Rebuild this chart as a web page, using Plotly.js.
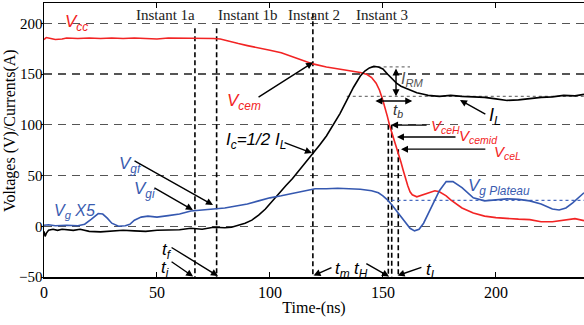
<!DOCTYPE html>
<html><head><meta charset="utf-8">
<script src="https://cdn.plot.ly/plotly-3.0.1.min.js"></script>
<style>html,body{margin:0;padding:0;background:#fff}#chart{width:584px;height:325px}</style>
</head><body><div id="chart"></div>
<script>
// Vce (red)
const vceT = [0,1,3,5,8,10,15,20,25,30,35,40,45,50,55,60,65,70,75,78,82,86,90,95,100,105,110,115,119,125,130,135,140,143,145,147,148.5,150,151,152,153,154,155,156,157,158,159,160,161,162,163,165,168,170,173,175,178,180,185,190,195,200,205,210,215,220,225,230,235,239];
const vceV = [184,186,185,184,184.5,185.5,185,185.5,185,185.5,185,185.5,185,184.5,185.5,185.5,185.5,185,185,184.5,182,180,178,176,173.5,171,167,163,160,157,155,153.5,151.5,149.5,146.5,141,134,124,117,108,99,92,86,79,71,63,55,47,40,34,31,29,31,33,35,34,30,26,18,13,10,8.5,7.5,7,6.5,4.5,4.5,6,7.5,5.5];
// Vg x5 (blue)
const vgT = [0,2,5,10,15,18,21,24,26,28,30,33,36,38,40,43,46,50,55,60,65,70,75,80,85,90,95,100,105,110,115,120,125,130,135,140,145,148,150,152,154,156,158,160,162,164,166,168,170,172,175,178,181,185,190,195,200,205,210,215,220,225,228,231,234,237,239];
const vgV = [1,1.5,0.5,1,0.5,2,7,12.5,12,8,3,0,0.5,2,6,9,10,9,10.5,12,15,16,16.5,18,20,22,25,28,30,32.5,35,37,37,37.5,37,36.5,35,33,30,26,21,15,9,3,-2,-4.5,-3,3,12,22,35,44,44,38,28,25,26,27,26.5,25,22,17,16,18,23,29,33];
// Ic / IL (black)
const icT = [0,0.5,1,2,4,6,8,10,13,16,20,25,30,35,40,45,50,55,60,65,70,75,80,83,86,89,92,95,98,101,104,107,110,113,116,119,122,125,128,131,134,137,140,142,144,146,148,150,152,154,156,158,160,162,165,168,170,175,180,185,190,195,200,205,210,215,220,225,230,235,239];
const icV = [-5,-10,-7,-4,-3,-4,-3,-3.5,-4,-3,-5,-5.5,-4.5,-4,-4.5,-5,-4,-4,-3.5,-2,-3,-1,-1.5,-1,1,3,6,11,17,25,32,40,47,55,63,71,80,89,100,111,124,137,148,153,156,157.5,157,155,150,145,141,138,136,134,131.5,130,129,128,129,128,127.5,127,125.5,124,124.5,126,127,127.5,129,128.5,130];
// Instants (vertical dashed markers)
const instX = [66.8,76.4,119,152.4,153.9,156.8];
const instTop = [195,195,210,100,100,76];
const instLabels = ['Instant 1a','Instant 1b','Instant 2','Instant 3'];
const instLabelX = [53.6,90.3,119.5,149.6];
// reference levels
const irmLevel = [157, 128];
const ilLevelX = [134, 239];
const irmX = [145, 162];
const tbX = [146, 163];
const tbY = 123.4;
const plateauX = [153.8, 239];
const plateauY = 25.6;

const traces = [];
for (let i=0;i<instX.length;i++){
  traces.push({x:[instX[i],instX[i]], y:[instTop[i],-50], mode:'lines', line:{color:'#000',width:1.6,dash:'5px,3px'}, hoverinfo:'skip'});
}
traces.push({x:irmX, y:[irmLevel[0],irmLevel[0]], mode:'lines', line:{color:'#777',width:1.3,dash:'dot'}});
traces.push({x:ilLevelX, y:[irmLevel[1],irmLevel[1]], mode:'lines', line:{color:'#777',width:1.3,dash:'dot'}});
traces.push({x:plateauX, y:[plateauY,plateauY], mode:'lines', line:{color:'#4a6cc0',width:1.3,dash:'dot'}});
traces.push({x:vceT, y:vceV, mode:'lines', line:{color:'#f22424',width:1.6}});
traces.push({x:icT, y:icV, mode:'lines', line:{color:'#000',width:1.6}});
traces.push({x:vgT, y:vgV, mode:'lines', line:{color:'#3558b0',width:1.6}});

const red='#f22424', blue='#3a5cb0';
function txt(x,y,t,c,s){return {x:x,y:y,xref:'x',yref:'y',text:t,showarrow:false,xanchor:'left',yanchor:'middle',font:{family:'Liberation Sans',size:s,color:c}};}
function arr(ax,ay,x,y,side){return {x:x,y:y,ax:ax,ay:ay,xref:'x',yref:'y',axref:'x',ayref:'y',text:'',showarrow:true,arrowhead:2,arrowsize:1,arrowwidth:1.4,arrowcolor:'#000',arrowside:side||'end',standoff:0,startstandoff:0};}

const ann = [
  txt(8.4,200.3,'<i>V<sub>cc</sub></i>',red,17),
  txt(80.1,122.5,'<i>V<sub>cem</sub></i>',red,17),
  txt(79.7,84.1,'<i>I<sub>c</sub>=1/2 I<sub>L</sub></i>','#000',17),
  txt(157.1,144.2,'<i>I<sub>RM</sub></i>','#555',16),
  txt(153.6,113.6,'<i>t<sub>b</sub></i>','#333',15),
  txt(170.4,98.3,'<i>V<sub>ceH</sub></i>',red,15),
  txt(182.8,88,'<i>V<sub>cemid</sub></i>',red,15),
  txt(198.3,72.5,'<i>V<sub>ceL</sub></i>',red,15),
  txt(196.1,107.7,'<i>I<sub>L</sub></i>','#000',18),
  txt(32.3,60.4,'<i>V<sub>gf</sub></i>',blue,17),
  txt(38.9,35.8,'<i>V<sub>gi</sub></i>',blue,17),
  txt(3.5,15,'<i>V<sub>g</sub> X5</i>',blue,16),
  txt(51.3,-24.6,'<i>t<sub>f</sub></i>','#000',17),
  txt(50.9,-41.8,'<i>t<sub>i</sub></i>','#000',17),
  txt(127.9,-43.1,'<i>t<sub>m</sub></i>','#000',17),
  txt(136.3,-43.1,'<i>t<sub>H</sub></i>','#000',17),
  txt(168.2,-44,'<i>t<sub>L</sub></i>','#000',17),
  txt(186.8,38.7,'<i>V<sub>g Plateau</sub></i>',blue,17),
  arr(94.3,126.4,119.1,161.5),
  arr(105.8,83,118.6,72.2),
  arr(155.8,irmLevel[0],155.8,irmLevel[1],'end+start'),
  arr(tbX[0],tbY,tbX[1],tbY,'end+start'),
  arr(170,99.7,153.6,99.7),
  arr(182.8,88,156.2,88),
  arr(196,76,158,76),
  arr(196,109.6,184.1,124.4),
  arr(39.4,65.3,74.8,21),
  arr(48.2,38.7,65.9,16),
  arr(55.8,-20,77,-49),
  arr(55.8,-34,66,-49.5),
  arr(127.9,-40,119.3,-48.6),
  arr(142,-36,152.7,-49.5),
  arr(167.7,-40,156.5,-48.6)
];
for (let i=0;i<instLabels.length;i++){
  ann.push({x:instLabelX[i],y:208.2,xref:'x',yref:'y',text:instLabels[i],showarrow:false,xanchor:'center',yanchor:'middle',font:{family:'Liberation Serif',size:15,color:'#222'}});
}
// y-axis title placed as a rotated annotation
ann.push({xref:'paper',yref:'paper',x:-0.0630,y:0.536,text:'Voltages (V)/Currents(A)',textangle:-90,showarrow:false,xanchor:'center',yanchor:'middle',font:{family:'Liberation Serif',size:16,color:'#000'}});

const layout = {
  width:584,height:325,margin:{l:44,r:0,t:3,b:48},
  paper_bgcolor:'#fff',plot_bgcolor:'#fff',showlegend:false,
  font:{family:'Liberation Serif',color:'#000'},
  xaxis:{range:[0,239],tickvals:[0,50,100,150,200],showgrid:false,zeroline:false,showline:true,linecolor:'#000',linewidth:1.5,mirror:'ticks',ticks:'inside',ticklen:5,tickcolor:'#000',tickfont:{size:16,family:'Liberation Serif'},
    title:{text:'Time-(ns)',font:{size:16,family:'Liberation Serif'},standoff:2}},
  yaxis:{range:[-50,220],tickvals:[-50,0,50,100,150,200],showgrid:true,gridcolor:'#555',gridwidth:1.2,griddash:'8px,6px',zeroline:false,showline:true,linecolor:'#000',linewidth:1.5,ticks:'outside',ticklen:2,tickcolor:'#000',ticklabelstandoff:-5,tickfont:{size:15,family:'Liberation Serif'}},
  annotations:ann
};
Plotly.newPlot('chart',traces,layout,{staticPlot:true,displayModeBar:false});
</script></body></html>
